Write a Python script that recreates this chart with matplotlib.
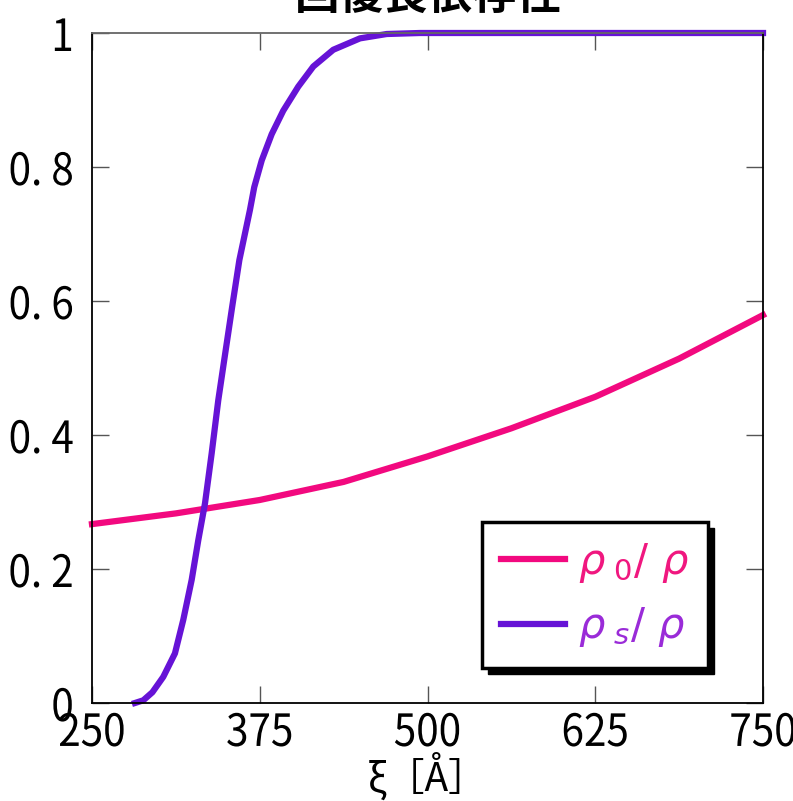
import matplotlib
matplotlib.use("Agg")
import matplotlib.pyplot as plt
from matplotlib.patheffects import AbstractPathEffect
from matplotlib.patches import Rectangle
from matplotlib.transforms import Affine2D, IdentityTransform

# recovery length xi [A]
xi_n0 = [250, 312.5, 375, 437.5, 500, 562.5, 625, 687.5, 750]
rho_n0 = [0.267, 0.283, 0.303, 0.330, 0.368, 0.410, 0.457, 0.514, 0.579]

xi_ns = [282.0, 288.2, 295.0, 303.1, 311.8, 318.0, 324.3, 329.2, 334.2, 339.2,
         344.1, 349.5, 354.5, 359.8, 367.7, 370.9, 376.5, 383.9, 392.5, 403.7,
         414.9, 429.8, 449.7, 469.6, 494.4, 550, 625, 750]
rho_ns = [0.0, 0.004, 0.016, 0.039, 0.074, 0.124, 0.184, 0.243, 0.298, 0.373,
          0.452, 0.525, 0.592, 0.661, 0.736, 0.770, 0.810, 0.849, 0.884, 0.920,
          0.950, 0.975, 0.992, 0.9985, 1.0, 1.0, 1.0, 1.0]

xticks = [250, 375, 500, 625, 750]
yticks = [0, 0.2, 0.4, 0.6, 0.8, 1]
ytick_labels = ["0", "0. 2", "0. 4", "0. 6", "0. 8", "1"]

pink = "#f2097f"
purple = "#6613d6"


class Squeeze(AbstractPathEffect):
    # narrow the glyphs a little, like the condensed tick font
    def __init__(self, sx, anchor='center'):
        super().__init__()
        self.sx = sx
        self.anchor = anchor

    def draw_path(self, renderer, gc, tpath, affine, rgbFace=None):
        ext = tpath.get_extents()
        cx = ext.x1 if self.anchor == 'right' else (ext.x0 + ext.x1) / 2
        tr = Affine2D().translate(-cx, 0).scale(self.sx, 1).translate(cx, 0)
        renderer.draw_path(gc, tpath, tr + affine, rgbFace)


plt.rcParams['font.family'] = ['Noto Sans CJK JP', 'DejaVu Sans']
plt.rcParams['mathtext.fontset'] = 'dejavusans'

fig = plt.figure(figsize=(7.93, 8.01), dpi=100)
ax = fig.add_axes([92 / 793, 98 / 801, 671 / 793, 670 / 801])

ax.plot(xi_n0, rho_n0, color=pink, lw=4.5, label=r'$\rho_{\ 0}/\ \rho$', clip_on=False)
ax.plot(xi_ns, rho_ns, color=purple, lw=4.5, label=r'$\rho_{\ s}/\ \rho$', clip_on=False)

ax.set_xlim(250, 750)
ax.set_ylim(0, 1)
ax.set_xticks(xticks)
ax.set_xticklabels([str(t) for t in xticks])
ax.set_yticks(yticks)
ax.set_yticklabels(ytick_labels)
ax.tick_params(direction='in', length=12, width=1, color='#555555',
               top=True, right=True, labelsize=32)
ax.tick_params(axis='x', pad=5)
ax.tick_params(axis='y', pad=13)
for lab in ax.get_xticklabels():
    lab.set_path_effects([Squeeze(0.91)])
for lab in ax.get_yticklabels():
    lab.set_path_effects([Squeeze(0.91, 'right')])
for s in ax.spines.values():
    s.set_linewidth(1.3)
ax.spines['top'].set_color('#666666')

ax.set_xlabel('ξ［Å］', fontsize=28, labelpad=-3)
fig.text(0.54, 1.005, '回復長依存性', fontsize=32, fontweight='bold',
         ha='center', va='center')

leg = ax.legend(loc='lower left', bbox_to_anchor=(0.581, 0.052), fontsize=30,
                fancybox=False, edgecolor='black', framealpha=1,
                handlelength=1.55, borderpad=0.45, labelspacing=0.5,
                handletextpad=0.3, borderaxespad=0)
leg.get_frame().set_linewidth(2.5)
leg.get_texts()[0].set_color('#f0177f')
leg.get_texts()[1].set_color('#9a2bd8')

# black drop shadow behind the legend box
fig.canvas.draw()
bb = leg.get_window_extent()
ax.add_artist(Rectangle((bb.x0 + 6, bb.y0 - 6), bb.width, bb.height,
                        transform=IdentityTransform(), color='black',
                        zorder=leg.get_zorder() - 0.1, clip_on=False))

fig.savefig('out.png', dpi=100)
